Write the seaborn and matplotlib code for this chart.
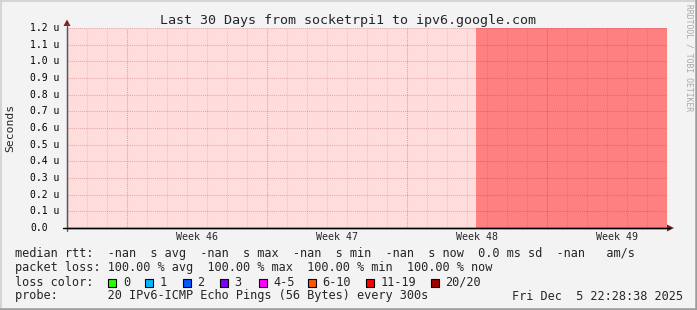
import numpy as np
import pandas as pd
import matplotlib
matplotlib.use("Agg")
import matplotlib.pyplot as plt
import matplotlib.dates as mdates
from matplotlib.patches import Rectangle, Polygon
from matplotlib.lines import Line2D
import seaborn as sns

# ---------------- data ----------------
title = "Last 30 Days from socketrpi1 to ipv6.google.com"
range_start = "2025-11-06 00:00"
range_end = "2025-12-06 00:00"
seg_start = ["2025-11-06 00:00", "2025-11-26 11:00"]
seg_end = ["2025-11-26 11:00", "2025-12-06 00:00"]
seg_kind = ["unknown", "loss 20/20"]
y_tick_us = [0.0, 0.1, 0.2, 0.3, 0.4, 0.5, 0.6, 0.7, 0.8, 0.9, 1.0, 1.1, 1.2]
y_label = "Seconds"
week_numbers = [46, 47, 48, 49]
week_starts = ["2025-11-09", "2025-11-16", "2025-11-23", "2025-11-30"]
loss_labels = ["0", "1", "2", "3", "4-5", "6-10", "11-19", "20/20"]
loss_colors = ["#26ff00", "#00b8ff", "#0059ff", "#7e00ff", "#ff00ff",
               "#ff5500", "#ff0000", "#a10000"]
line_median = "median rtt:  -nan  s avg  -nan  s max  -nan  s min  -nan  s now  0.0 ms sd  -nan   am/s"
line_loss = "packet loss: 100.00 % avg  100.00 % max  100.00 % min  100.00 % now"
line_color = "loss color:"
line_probe = "probe:       20 IPv6-ICMP Echo Pings (56 Bytes) every 300s"
stamp = "Fri Dec  5 22:28:38 2025"
credit = "RRDTOOL / TOBI OETIKER"

# ---------------- style ----------------
sns.set_theme(style="white")
plt.rcParams["font.family"] = ["DejaVu Sans Mono"]

W, H = 697, 310
BG = "#f3f3f3"
UNKNOWN = "#ffdddd"
LOSSFILL = "#ff8080"
GRID_MAJ = (0.78, 0.0, 0.0, 0.30)
GRID_MIN = (0.55, 0.12, 0.12, 0.16)
GRID_Y = (0.55, 0.12, 0.12, 0.27)

fig = plt.figure(figsize=(W / 100, H / 100), dpi=100, facecolor=BG)

def fx(x):
    return x / W

def fy(y):
    return 1 - y / H

ax_l, ax_r, ax_t, ax_b = 67, 667, 28, 228
ax = fig.add_axes([fx(ax_l), fy(ax_b), (ax_r - ax_l) / W, (ax_b - ax_t) / H])
ax.set_facecolor("white")

t0 = mdates.date2num(pd.Timestamp(range_start))
t1 = mdates.date2num(pd.Timestamp(range_end))
kind_color = {"unknown": UNKNOWN, "loss 20/20": LOSSFILL}
for s, e, k in zip(seg_start, seg_end, seg_kind):
    ax.axvspan(mdates.date2num(pd.Timestamp(s)), mdates.date2num(pd.Timestamp(e)),
               color=kind_color[k], lw=0, zorder=0.2)

y_vals = [v * 1e-6 for v in y_tick_us]
ax.set_xlim(t0, t1)
ax.set_ylim(0, y_vals[-1])

days = mdates.date2num(pd.date_range(range_start, range_end, freq="D"))
wk = mdates.date2num(pd.to_datetime(week_starts))
ax.set_xticks(wk)
ax.set_xticks(days, minor=True)
ax.set_xticklabels([])
ax.set_yticks(y_vals)
ax.set_yticklabels([])

ax.set_axisbelow(False)
dot = (0, (1, 1))
ax.grid(False)
for d in days:
    if d in wk or d <= t0 or d >= t1:
        continue
    ax.axvline(d, color=GRID_MIN, lw=0.75, ls=dot, zorder=1)
for d in wk:
    ax.axvline(d, color=GRID_MAJ, lw=0.75, ls=dot, zorder=1.1)
for v in y_vals[1:]:
    ax.axhline(v, color=GRID_Y, lw=0.75, ls=dot, zorder=1.1)

ax.tick_params(axis="x", which="major", length=2.5, width=0.75, color="#e08a8a", direction="out")
ax.tick_params(axis="x", which="minor", length=2, width=0.75, color="#e8b4b4", direction="out")
ax.tick_params(axis="y", which="major", length=3, width=0.75, color="#777777", direction="out")
for sp in ["top", "right"]:
    ax.spines[sp].set_visible(False)
ax.spines["left"].set_color("#555555")
ax.spines["left"].set_linewidth(0.9)
ax.spines["bottom"].set_color("black")
ax.spines["bottom"].set_linewidth(1.0)
ax.spines["left"].set_zorder(3)
ax.spines["bottom"].set_zorder(3)

# y tick labels (left aligned, rrdtool style)
ytr = ax.get_yaxis_transform()
for v, u in zip(y_vals, y_tick_us):
    lab = "0.0" if u == 0 else f"{u:.1f} u"
    ax.text((30.5 - ax_l) / (ax_r - ax_l), v, lab, transform=ytr, ha="left",
            va="center", fontsize=7, color="#000000", clip_on=False)

# week labels at mid-week
xtr = ax.get_xaxis_transform()
for n, d in zip(week_numbers, wk):
    ax.text(d + 3.5, -(4.5 / (ax_b - ax_t)), f"Week {n}", transform=xtr,
            ha="center", va="top", fontsize=7.2, clip_on=False)

# axis arrows / extensions
fig.add_artist(Line2D([fx(ax_l), fx(ax_l)], [fy(231), fy(24)], color="#555555", lw=0.9))
fig.add_artist(Line2D([fx(63), fx(670)], [fy(ax_b), fy(ax_b)], color="black", lw=1.0))
fig.add_artist(Polygon([[fx(ax_l - 3.5), fy(26)], [fx(ax_l + 3.5), fy(26)], [fx(ax_l), fy(19.5)]],
                       closed=True, color="#7f1f1f", lw=0))
fig.add_artist(Polygon([[fx(667), fy(ax_b - 3.5)], [fx(667), fy(ax_b + 3.5)], [fx(674), fy(ax_b)]],
                       closed=True, color="#7f1f1f", lw=0))

# title, y label, credit
fig.text(fx(348), fy(24), title, ha="center", va="baseline", fontsize=9.6)
fig.text(fx(10.5), fy(128), y_label, ha="center", va="center", rotation=90, fontsize=8.2)
fig.text(fx(688.5), fy(4), credit, ha="center", va="top", rotation=270,
         fontsize=5.8, color="#a8a8a8")

# legend lines
fs = 8.55
x0 = 15.1
fig.text(fx(x0), fy(257.5), line_median, ha="left", va="baseline", fontsize=fs)
fig.text(fx(x0), fy(271.5), line_loss, ha="left", va="baseline", fontsize=fs)
fig.text(fx(x0), fy(285.5), line_color, ha="left", va="baseline", fontsize=fs)
box_x = [108.3, 145.3, 182.7, 220.0, 259.0, 307.7, 365.7, 431.0]
for bx, lab, col in zip(box_x, loss_labels, loss_colors):
    fig.add_artist(Rectangle((fx(bx), fy(286.5)), 8 / W, 8 / H, facecolor=col,
                             edgecolor="black", lw=0.8))
    fig.text(fx(bx + 14.5), fy(285.5), lab, ha="left", va="baseline", fontsize=fs)
fig.text(fx(x0), fy(299.5), line_probe, ha="left", va="baseline", fontsize=fs)
fig.text(fx(683.5), fy(299.5), stamp, ha="right", va="baseline", fontsize=fs)

# frame
fig.add_artist(Line2D([0, 1], [fy(0.5), fy(0.5)], color="#d0d0d0", lw=1.2))
fig.add_artist(Line2D([fx(0.5), fx(0.5)], [0, 1], color="#d0d0d0", lw=1.2))
fig.add_artist(Line2D([0, 1], [fy(308.8), fy(308.8)], color="#9c9c9c", lw=1.8))
fig.add_artist(Line2D([fx(695.8), fx(695.8)], [0, 1], color="#9c9c9c", lw=1.8))

fig.savefig("out.png", dpi=100, facecolor=BG)
